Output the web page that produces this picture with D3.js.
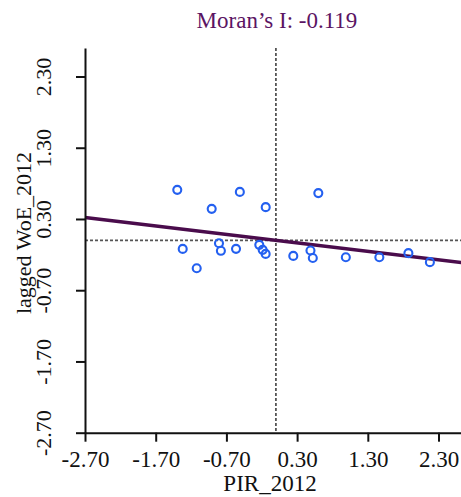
<!DOCTYPE html>
<html>
<head>
<meta charset="utf-8">
<script src="https://cdn.jsdelivr.net/npm/d3@7"></script>
<style>
  body { margin: 0; background: #fff; }
  svg { display: block; }
</style>
</head>
<body>
<div id="chart"></div>
<script>
// Moran scatter: standardized PIR_2012 vs its spatial lag
const pirValues = [-1.395, -0.51, -0.908, -0.144, -1.318, -0.805, -0.778, -0.564, -0.235, -0.187, -0.145, -1.12, 0.246, 0.489, 0.522, 0.6, 0.989, 1.463, 1.874, 2.178];
const laggedValues = [0.709, 0.68, 0.442, 0.466, -0.12, -0.04, -0.147, -0.119, -0.063, -0.133, -0.19, -0.391, -0.218, -0.143, -0.247, 0.663, -0.237, -0.237, -0.18, -0.306];
const xTicks = [-2.7, -1.7, -0.7, 0.3, 1.3, 2.3];
const yTicks = [-2.7, -1.7, -0.7, 0.3, 1.3, 2.3];
const moranI = -0.119;

const width = 461, height = 497;
const font = "'Liberation Serif', 'Times New Roman', serif";

const points = pirValues.map((d, i) => ({ x: d, y: laggedValues[i] }));

const svg = d3.select("#chart").append("svg")
  .attr("width", width)
  .attr("height", height);

const xScale = d3.scaleLinear().domain([-2.7, 2.7]).range([85, 466.8]);
const yScale = d3.scaleLinear().domain([-2.7, 2.7]).range([432.7, 48]);

// Mean reference lines (dashed)
svg.append("line")
  .attr("x1", xScale(0)).attr("x2", xScale(0))
  .attr("y1", yScale(2.7)).attr("y2", yScale(-2.7))
  .attr("stroke", "#555").attr("stroke-width", 1.8)
  .attr("stroke-dasharray", "3,2");

svg.append("line")
  .attr("x1", xScale(-2.7)).attr("x2", width)
  .attr("y1", yScale(0)).attr("y2", yScale(0))
  .attr("stroke", "#555").attr("stroke-width", 1.8)
  .attr("stroke-dasharray", "3,2");

// Regression line, slope = Moran's I
const fitLine = d3.line()
  .x(d => xScale(d))
  .y(d => yScale(moranI * d));

svg.append("path")
  .datum([-2.7, 2.7])
  .attr("d", fitLine)
  .attr("fill", "none")
  .attr("stroke", "#4a0c4c")
  .attr("stroke-width", 3.4);

// Points
svg.selectAll(".dot")
  .data(points)
  .enter()
  .append("circle")
  .attr("class", "dot")
  .attr("cx", d => xScale(d.x))
  .attr("cy", d => yScale(d.y))
  .attr("r", 4)
  .attr("fill", "none")
  .attr("stroke", "#2460f0")
  .attr("stroke-width", 2.1);

// Axes
const fmt = d => d.toFixed(2);

const xAxis = svg.append("g")
  .attr("transform", `translate(0,${yScale(-2.7)})`)
  .call(d3.axisBottom(xScale).tickValues(xTicks).tickFormat(fmt).tickSize(9).tickSizeOuter(0));

const yAxis = svg.append("g")
  .attr("transform", `translate(${xScale(-2.7)},0)`)
  .call(d3.axisLeft(yScale).tickValues(yTicks).tickFormat(fmt).tickSize(9).tickSizeOuter(0));

[xAxis, yAxis].forEach(g => {
  g.select(".domain").attr("stroke", "#111").attr("stroke-width", 2);
  g.selectAll(".tick line").attr("stroke", "#111").attr("stroke-width", 2);
  g.selectAll("text").attr("font-family", font).attr("fill", "#111");
});

xAxis.selectAll("text")
  .attr("font-size", "23px")
  .attr("y", 0)
  .attr("dy", 0)
  .attr("transform", "translate(0,34)");

yAxis.selectAll(".tick text")
  .attr("font-size", "22px")
  .attr("text-anchor", "middle")
  .attr("x", 0)
  .attr("dy", 0)
  .attr("transform", "translate(-34,0) rotate(-90)");

// Axis titles
svg.append("text")
  .attr("x", 270)
  .attr("y", 491)
  .attr("text-anchor", "middle")
  .attr("font-family", font)
  .attr("font-size", "23px")
  .attr("fill", "#111")
  .text("PIR_2012");

svg.append("text")
  .attr("transform", "translate(31,233) rotate(-90)")
  .attr("text-anchor", "middle")
  .attr("font-family", font)
  .attr("font-size", "22px")
  .attr("fill", "#111")
  .text("lagged WoE_2012");

// Title
svg.append("text")
  .attr("x", 277)
  .attr("y", 28)
  .attr("text-anchor", "middle")
  .attr("font-family", font)
  .attr("font-size", "23px")
  .attr("fill", "#5b1463")
  .text("Moran’s I: " + moranI.toFixed(3));
</script>
</body>
</html>
